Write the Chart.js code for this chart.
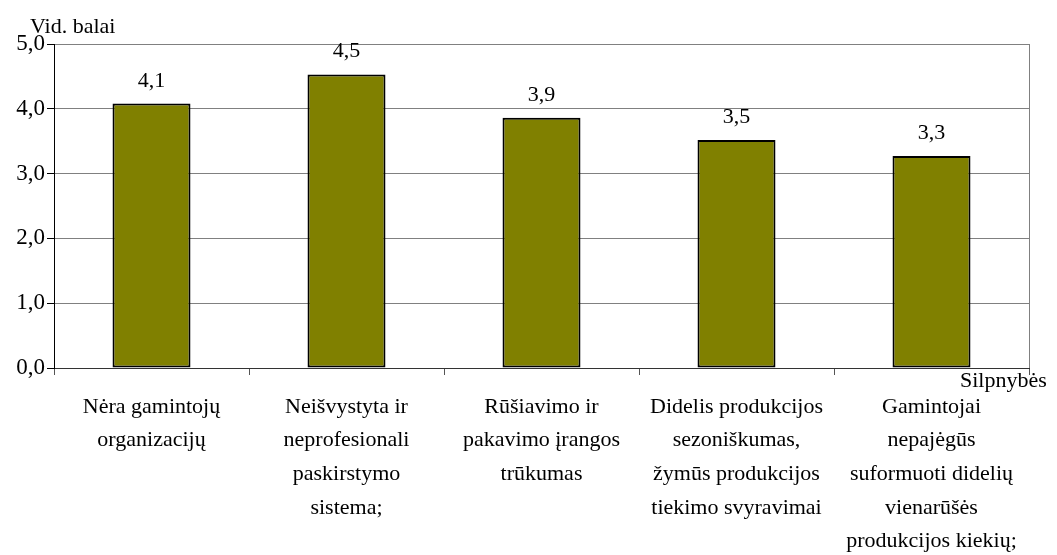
<!DOCTYPE html>
<html>
<head>
<meta charset="utf-8">
<script src="https://cdn.jsdelivr.net/npm/chart.js@4/dist/chart.umd.min.js"></script>
<style>
  html, body { margin: 0; padding: 0; background: #fff; }
  #wrap { width: 1057px; height: 555px; }
</style>
</head>
<body>
<div id="wrap"><canvas id="chart" width="1057" height="555"></canvas></div>
<script>
const categories = [
  ['Nėra gamintojų', 'organizacijų'],
  ['Neišvystyta ir', 'neprofesionali', 'paskirstymo', 'sistema;'],
  ['Rūšiavimo ir', 'pakavimo įrangos', 'trūkumas'],
  ['Didelis produkcijos', 'sezoniškumas,', 'žymūs produkcijos', 'tiekimo svyravimai'],
  ['Gamintojai', 'nepajėgūs', 'suformuoti didelių', 'vienarūšės', 'produkcijos kiekių;']
];
const scores = [4.08, 4.53, 3.86, 3.52, 3.27];
const yTitle = 'Vid. balai';
const xTitle = 'Silpnybės';

const FONT = 'Liberation Serif';

const fmt = v => v.toFixed(1).replace('.', ',');

// value labels, axis titles and the right frame line
const extras = {
  id: 'extras',
  afterDatasetsDraw(chart) {
    const ctx = chart.ctx;
    const area = chart.chartArea;
    ctx.save();
    ctx.strokeStyle = '#808080';
    ctx.lineWidth = 1;
    ctx.beginPath();
    ctx.moveTo(area.right + 0.5, area.top);
    ctx.lineTo(area.right + 0.5, area.bottom);
    ctx.stroke();

    ctx.fillStyle = '#000';
    ctx.font = '22px "' + FONT + '"';
    ctx.textAlign = 'center';
    ctx.textBaseline = 'alphabetic';
    const meta = chart.getDatasetMeta(0);
    meta.data.forEach((bar, i) => {
      ctx.fillText(fmt(scores[i]), bar.x, bar.y - 17);
    });

    ctx.textAlign = 'left';
    ctx.fillText(yTitle, 30, 33);
    ctx.fillText(xTitle, 960, 387);
    ctx.restore();
  }
};

new Chart(document.getElementById('chart'), {
  type: 'bar',
  data: {
    labels: categories,
    datasets: [{
      data: scores,
      backgroundColor: '#808000',
      borderColor: '#000',
      borderWidth: 2,
      borderSkipped: false,
      barPercentage: 0.4,
      categoryPercentage: 1
    }]
  },
  options: {
    responsive: false,
    animation: false,
    layout: { padding: { top: 44, right: 28, left: 0, bottom: 0 } },
    plugins: {
      legend: { display: false },
      tooltip: { enabled: false }
    },
    scales: {
      x: {
        grid: { drawOnChartArea: false, drawTicks: true, tickLength: 7, tickColor: '#555', offset: true },
        border: { display: true, color: '#333', width: 1 },
        ticks: {
          autoSkip: false,
          maxRotation: 0,
          color: '#000',
          padding: 15,
          font: { family: FONT, size: 22, lineHeight: 1.53 }
        },
        afterFit(scale) { scale.height = 187; }
      },
      y: {
        min: 0,
        max: 5,
        grid: { color: '#808080', tickLength: 7, tickColor: '#000' },
        border: { display: true, color: '#000', width: 1 },
        ticks: {
          stepSize: 1,
          color: '#000',
          padding: 2,
          font: { family: FONT, size: 23 },
          callback: v => fmt(v)
        },
        afterFit(scale) { scale.width = 54; }
      }
    }
  },
  plugins: [extras]
});
</script>
</body>
</html>
